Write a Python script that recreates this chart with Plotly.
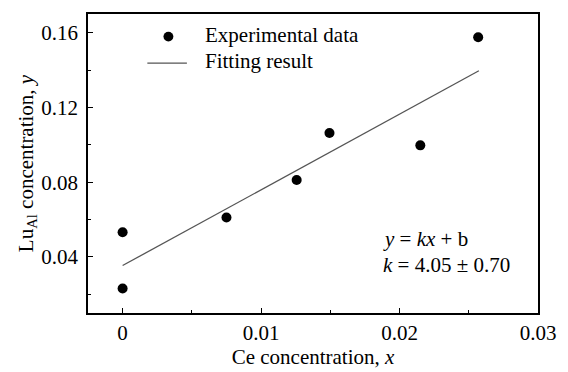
import plotly.graph_objects as go

# Data
x_exp = [0.0, 0.0, 0.0075, 0.01257, 0.01494, 0.0215, 0.02568]
y_exp = [0.0532, 0.0231, 0.0611, 0.0812, 0.1063, 0.0997, 0.1576]
fit_x = [0.0, 0.02573]
fit_k = 4.05
fit_b = 0.0354
fit_y = [fit_b + fit_k * v for v in fit_x]

x_ticks = [0, 0.01, 0.02, 0.03]
x_ticklabels = ["0", "0.01", "0.02", "0.03"]
y_ticks = [0.04, 0.08, 0.12, 0.16]
y_ticklabels = ["0.04", "0.08", "0.12", "0.16"]

FONT = "Liberation Serif, Times New Roman, serif"
FS = 21

fig = go.Figure()
fig.add_trace(go.Scatter(x=fit_x, y=fit_y, mode="lines",
                         line=dict(color="#555555", width=1.3),
                         name="Fitting result", showlegend=False))
fig.add_trace(go.Scatter(x=x_exp, y=y_exp, mode="markers",
                         marker=dict(color="black", size=10),
                         name="Experimental data", showlegend=False))

# manual legend (paper coords)
W, H = 568, 372
ml, mr, mt, mb = 88, 25, 12, 56
pw, ph = W - ml - mr, H - mt - mb
def px(xp): return (xp - ml) / pw
def py(yp): return 1 - (yp - mt) / ph

fig.add_shape(type="circle", xref="paper", yref="paper",
              x0=px(164.3), x1=px(174.3), y0=py(30), y1=py(40),
              fillcolor="black", line=dict(width=0))
fig.add_shape(type="line", xref="paper", yref="paper",
              x0=px(148), x1=px(188), y0=py(62), y1=py(62),
              line=dict(color="#555555", width=1.3))
fig.add_annotation(xref="paper", yref="paper", x=px(204), y=py(33),
                   xanchor="left", yanchor="middle", showarrow=False,
                   text="Experimental data", font=dict(family=FONT, size=FS, color="black"))
fig.add_annotation(xref="paper", yref="paper", x=px(204), y=py(60),
                   xanchor="left", yanchor="middle", showarrow=False,
                   text="Fitting result", font=dict(family=FONT, size=FS, color="black"))

fig.add_annotation(xref="paper", yref="paper", x=px(384), y=py(241),
                   xanchor="left", yanchor="middle", showarrow=False,
                   text="<i>y</i> = <i>kx</i> + b", font=dict(family=FONT, size=FS, color="black"))
fig.add_annotation(xref="paper", yref="paper", x=px(384), y=py(267),
                   xanchor="left", yanchor="middle", showarrow=False,
                   text="<i>k</i> = 4.05 ± 0.70", font=dict(family=FONT, size=FS, color="black"))

axis_common = dict(showline=True, linecolor="black", linewidth=1.5, mirror=True,
                   ticks="inside", ticklen=5, tickwidth=1.2, tickcolor="black",
                   showgrid=False, zeroline=False,
                   tickfont=dict(family=FONT, size=FS, color="black"))

fig.update_xaxes(range=[-0.0025, 0.03], tickvals=x_ticks, ticktext=x_ticklabels,
                 minor=dict(dtick=0.005, ticks="inside", ticklen=3, tickcolor="black", tickwidth=1.2),
                 title=dict(text="Ce concentration, <i>x</i>", font=dict(family=FONT, size=FS, color="black"), standoff=0),
                 **axis_common)
fig.update_yaxes(range=[0.01, 0.17], tickvals=y_ticks, ticktext=y_ticklabels,
                 ticklabelstandoff=4,
                 minor=dict(dtick=0.02, ticks="inside", ticklen=3, tickcolor="black", tickwidth=1.2),
                 title=dict(text="Lu<sub>Al</sub> concentration, <i>y</i>", font=dict(family=FONT, size=FS, color="black"), standoff=2),
                 **axis_common)

fig.update_layout(width=W, height=H, margin=dict(l=ml, r=mr, t=mt, b=mb),
                  paper_bgcolor="white", plot_bgcolor="white", showlegend=False,
                  font=dict(family=FONT, size=FS, color="black"))

fig.write_html("out.html")
